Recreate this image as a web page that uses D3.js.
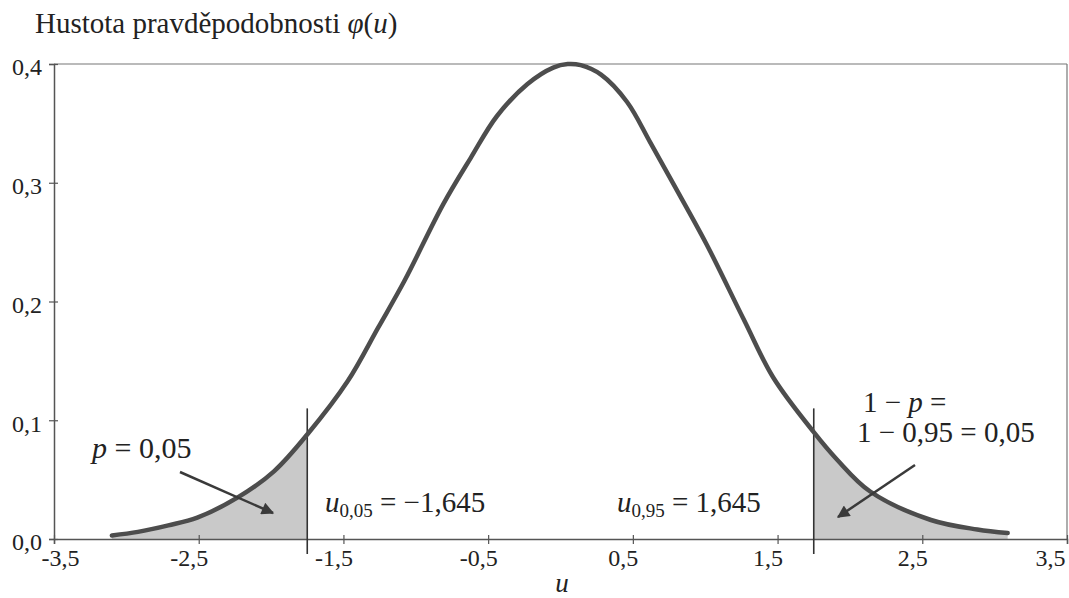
<!DOCTYPE html>
<html>
<head>
<meta charset="utf-8">
<script src="https://cdn.jsdelivr.net/npm/d3@7"></script>
<style>
  body { margin: 0; background: #fff; }
  svg text { font-family: "Liberation Serif", "Times New Roman", serif !important; }
</style>
</head>
<body>
<div id="chart"></div>
<script>
// values
const curveU = [-3.10, -2.92, -2.71, -2.51, -2.23, -1.98, -1.75, -1.47, -1.26, -1.08, -0.81, -0.62, -0.44, -0.23, -0.05,
  0.05, 0.14, 0.28, 0.46, 0.62, 0.78, 1.01, 1.27, 1.47, 1.75, 1.91, 2.14, 2.56, 2.88, 3.09];
const curvePhi = [0.003, 0.006, 0.0115, 0.018, 0.035, 0.057, 0.088, 0.133, 0.178, 0.217, 0.282, 0.321, 0.356, 0.383, 0.397,
  0.400, 0.399, 0.391, 0.368, 0.334, 0.299, 0.248, 0.184, 0.136, 0.090, 0.067, 0.040, 0.016, 0.008, 0.005];
const critU = [-1.75, 1.75];
const xTicks = [-3.5, -2.5, -1.5, -0.5, 0.5, 1.5, 2.5, 3.5];
const xTickLabels = ["-3,5", "-2,5", "-1,5", "-0,5", "0,5", "1,5", "2,5", "3,5"];
const yTicks = [0, 0.1, 0.2, 0.3, 0.4];
const yTickLabels = ["0,0", "0,1", "0,2", "0,3", "0,4"];

const W = 1069, H = 598;
const data = curveU.map((u, i) => ({ u: u, phi: curvePhi[i] }));

const svg = d3.select("#chart").append("svg")
  .attr("width", W).attr("height", H);

svg.append("defs").append("marker")
  .attr("id", "arrow")
  .attr("viewBox", "0 0 10 10")
  .attr("refX", 9).attr("refY", 5)
  .attr("markerWidth", 6).attr("markerHeight", 5)
  .attr("markerUnits", "strokeWidth")
  .attr("orient", "auto")
  .append("path").attr("d", "M0,0 L10,5 L0,10 Z").attr("fill", "#3a3a3a");

const x = d3.scaleLinear().domain([-3.5, 3.5]).range([54, 1067]);
const y = d3.scaleLinear().domain([0, 0.4]).range([539, 64]);

// shaded tails
const area = d3.area().x(d => x(d.u)).y0(y(0)).y1(d => y(d.phi)).curve(d3.curveCatmullRom);
svg.append("path").datum(data.filter(d => d.u <= critU[0]))
  .attr("d", area).attr("fill", "#c9c9c9");
svg.append("path").datum(data.filter(d => d.u >= critU[1]))
  .attr("d", area).attr("fill", "#c9c9c9");

// plot frame top and right
svg.append("line").attr("x1", x(-3.5)).attr("x2", x(3.5)).attr("y1", y(0.4)).attr("y2", y(0.4))
  .attr("stroke", "#777").attr("stroke-width", 1.2);
svg.append("line").attr("x1", x(3.5)).attr("x2", x(3.5)).attr("y1", y(0.4)).attr("y2", y(0))
  .attr("stroke", "#777").attr("stroke-width", 1.2);

// y axis
const yAxis = svg.append("g").attr("transform", "translate(" + x(-3.5) + ",0)")
  .call(d3.axisLeft(y).tickValues(yTicks).tickFormat((d, i) => yTickLabels[i]).tickSize(5).tickPadding(7));
yAxis.attr("font-family", null).attr("font-size", 24);
yAxis.select(".domain").attr("stroke", "#555").attr("stroke-width", 1.5);
yAxis.selectAll(".tick line").attr("x1", 4).attr("stroke", "#555").attr("stroke-width", 1.2);
yAxis.selectAll(".tick text").attr("fill", "#222").attr("dy", "0.45em");

// x axis
const xAxis = svg.append("g").attr("transform", "translate(0," + y(0) + ")")
  .call(d3.axisBottom(x).tickValues(xTicks).tickFormat((d, i) => xTickLabels[i]).tickSize(5).tickPadding(5));
xAxis.attr("font-family", null).attr("font-size", 24);
xAxis.select(".domain").attr("stroke", "#555").attr("stroke-width", 1.5);
xAxis.selectAll(".tick line").attr("y1", -4).attr("stroke", "#555").attr("stroke-width", 1.2);
xAxis.selectAll(".tick text").attr("fill", "#222")
  .attr("dx", (d, i) => i === 0 ? 6 : (i === xTicks.length - 1 ? -17 : -10));

// critical value markers
svg.selectAll(".crit").data(critU).enter().append("line")
  .attr("class", "crit")
  .attr("x1", d => x(d)).attr("x2", d => x(d))
  .attr("y1", y(0.11)).attr("y2", y(0) + 15)
  .attr("stroke", "#333").attr("stroke-width", 1.6);

// density curve
const line = d3.line().x(d => x(d.u)).y(d => y(d.phi)).curve(d3.curveCatmullRom);
svg.append("path").datum(data).attr("d", line)
  .attr("fill", "none").attr("stroke", "#4d4d4d").attr("stroke-width", 4.5)
  .attr("stroke-linejoin", "round").attr("stroke-linecap", "round");

// arrows
svg.append("line").attr("x1", 180).attr("y1", 472).attr("x2", 273).attr("y2", 513)
  .attr("stroke", "#3a3a3a").attr("stroke-width", 2.5).attr("marker-end", "url(#arrow)");
svg.append("line").attr("x1", 915).attr("y1", 465).attr("x2", 838).attr("y2", 517)
  .attr("stroke", "#3a3a3a").attr("stroke-width", 2.5).attr("marker-end", "url(#arrow)");

// texts
const txt = (xx, yy, size) => svg.append("text").attr("x", xx).attr("y", yy)
  .attr("font-size", size).attr("fill", "#222");

const title = txt(35, 33, 29);
title.append("tspan").text("Hustota pravděpodobnosti ");
title.append("tspan").attr("font-style", "italic").text("φ");
title.append("tspan").text("(");
title.append("tspan").attr("font-style", "italic").text("u");
title.append("tspan").text(")");

const p1 = txt(92, 458, 30);
p1.append("tspan").attr("font-style", "italic").text("p");
p1.append("tspan").text(" = 0,05");

const u1 = txt(325, 512, 29);
u1.append("tspan").attr("font-style", "italic").text("u");
u1.append("tspan").attr("font-size", 19).attr("dy", 5).text("0,05");
u1.append("tspan").attr("dy", -5).text(" = −1,645");

const u2 = txt(617, 512, 29);
u2.append("tspan").attr("font-style", "italic").text("u");
u2.append("tspan").attr("font-size", 19).attr("dy", 5).text("0,95");
u2.append("tspan").attr("dy", -5).text(" = 1,645");

const q1 = txt(863, 412, 29);
q1.append("tspan").text("1 − ");
q1.append("tspan").attr("font-style", "italic").text("p");
q1.append("tspan").text(" =");
txt(857, 442, 29).text("1 − 0,95 = 0,05");

txt(562, 592, 27).attr("text-anchor", "middle").attr("font-style", "italic").text("u");
</script>
</body>
</html>
